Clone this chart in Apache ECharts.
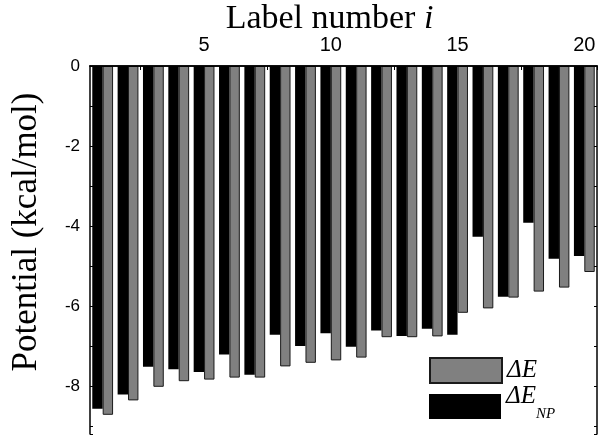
<!DOCTYPE html>
<html>
<head>
<meta charset="utf-8">
<script src="https://cdn.jsdelivr.net/npm/echarts@6/dist/echarts.min.js"></script>
<style>html,body{margin:0;padding:0;background:#fff;}#c{width:600px;height:438px;}</style>
</head>
<body>
<div id="c"></div>
<script>
// Label numbers i
const categories = ['1','2','3','4','5','6','7','8','9','10','11','12','13','14','15','16','17','18','19','20'];
// ΔE_NP (black bars), kcal/mol
const dENP = [-8.57,-8.21,-7.52,-7.58,-7.65,-7.21,-7.72,-6.72,-7.00,-6.68,-7.02,-6.61,-6.75,-6.57,-6.72,-4.27,-5.77,-3.92,-4.82,-4.75];
// ΔE (gray bars), kcal/mol
const dE = [-8.72,-8.36,-8.02,-7.88,-7.84,-7.79,-7.79,-7.51,-7.42,-7.36,-7.29,-6.78,-6.78,-6.76,-6.17,-6.06,-5.79,-5.64,-5.54,-5.15];
// y-axis tick labels shown (every 2 units)
const yTickLabels = ['0','-2','-4','-6','-8'];
const yMagMax = 9.2;

const chart = echarts.init(document.getElementById('c'), null, {renderer:'canvas'});
const serif = 'Liberation Serif';
const sans = 'Liberation Sans';
function yLab(v){
  const s = v === 0 ? '0' : '-' + v;
  return yTickLabels.indexOf(s) >= 0 ? s : '';
}
const yBase = {
  type:'value', inverse:true, min:0, max:yMagMax, interval:1,
  axisLine:{show:true, lineStyle:{color:'#000', width:1.5}},
  axisTick:{show:true, inside:true, length:3, lineStyle:{color:'#000', width:1}},
  splitLine:{show:false}
};
const legendRich = {
  a:{fontFamily:serif, fontStyle:'italic', fontSize:25, color:'#000', lineHeight:25},
  b:{fontFamily:serif, fontStyle:'italic', fontSize:25, color:'#000', lineHeight:25, padding:[0,0,20,0]},
  s:{fontFamily:serif, fontStyle:'italic', fontSize:15, color:'#000', lineHeight:16, padding:[16,0,0,0]}
};
function legendFmt(n){ return n === 'ΔE' ? '{a|ΔE}' : '{b|ΔE}{s|NP}'; }
const legendBase = {
  orient:'vertical', left:429, padding:0, itemWidth:72, itemHeight:25, icon:'rect',
  formatter:legendFmt, textStyle:{rich:legendRich}
};
chart.setOption({
  animation:false,
  backgroundColor:'#fff',
  grid:{left:90, right:3, top:66, height:368, outerBoundsMode:'none', containLabel:false},
  legend:[
    Object.assign({}, legendBase, {top:357, data:['ΔE']}),
    Object.assign({}, legendBase, {top:384, data:['ΔE_NP']})
  ],
  xAxis:[{
    type:'category', position:'top', data:categories, z:5,
    name:'{n|Label number }{i|i}', nameLocation:'middle', nameGap:30, nameMoveOverlap:false,
    nameTextStyle:{padding:[0,28,0,0], rich:{
      n:{fontFamily:serif, fontSize:34, color:'#000'},
      i:{fontFamily:serif, fontSize:34, fontStyle:'italic', color:'#000'}
    }},
    axisLine:{show:true, lineStyle:{color:'#000', width:1.5}},
    axisTick:{show:true, inside:true, length:4, alignWithLabel:false,
      interval:function(idx){ return idx % 5 === 2; }, lineStyle:{color:'#000'}},
    axisLabel:{interval:function(idx){ return idx % 5 === 4; }, fontFamily:sans, fontSize:20, color:'#000', margin:11},
    splitLine:{show:false}
  },{
    type:'category', position:'bottom', data:categories, z:5,
    axisLine:{show:true, lineStyle:{color:'#000', width:1.5}},
    axisTick:{show:false}, axisLabel:{show:false}, splitLine:{show:false}
  }],
  yAxis:[Object.assign({}, yBase, {
    position:'left', z:5,
    name:'Potential (kcal/mol)', nameLocation:'middle', nameGap:46, nameMoveOverlap:false,
    nameTextStyle:{fontFamily:serif, fontSize:35, color:'#000', padding:[0,0,0,36]},
    axisLabel:{show:true, fontFamily:sans, fontSize:17, color:'#000', margin:10, formatter:yLab}
  }), Object.assign({}, yBase, {
    position:'right', z:5,
    axisLabel:{show:false}
  })],
  series:[{
    name:'ΔE_NP', type:'bar', xAxisIndex:0, yAxisIndex:0,
    data:dENP.map(v => -v),
    barWidth:10.4, barGap:'0%',
    itemStyle:{color:'#000'}
  },{
    name:'ΔE', type:'bar', xAxisIndex:0, yAxisIndex:0,
    data:dE.map(v => -v),
    barWidth:10.4, barGap:'0%',
    itemStyle:{color:'#808080', borderColor:'#1a1a1a', borderWidth:1}
  }]
});
</script>
</body>
</html>
